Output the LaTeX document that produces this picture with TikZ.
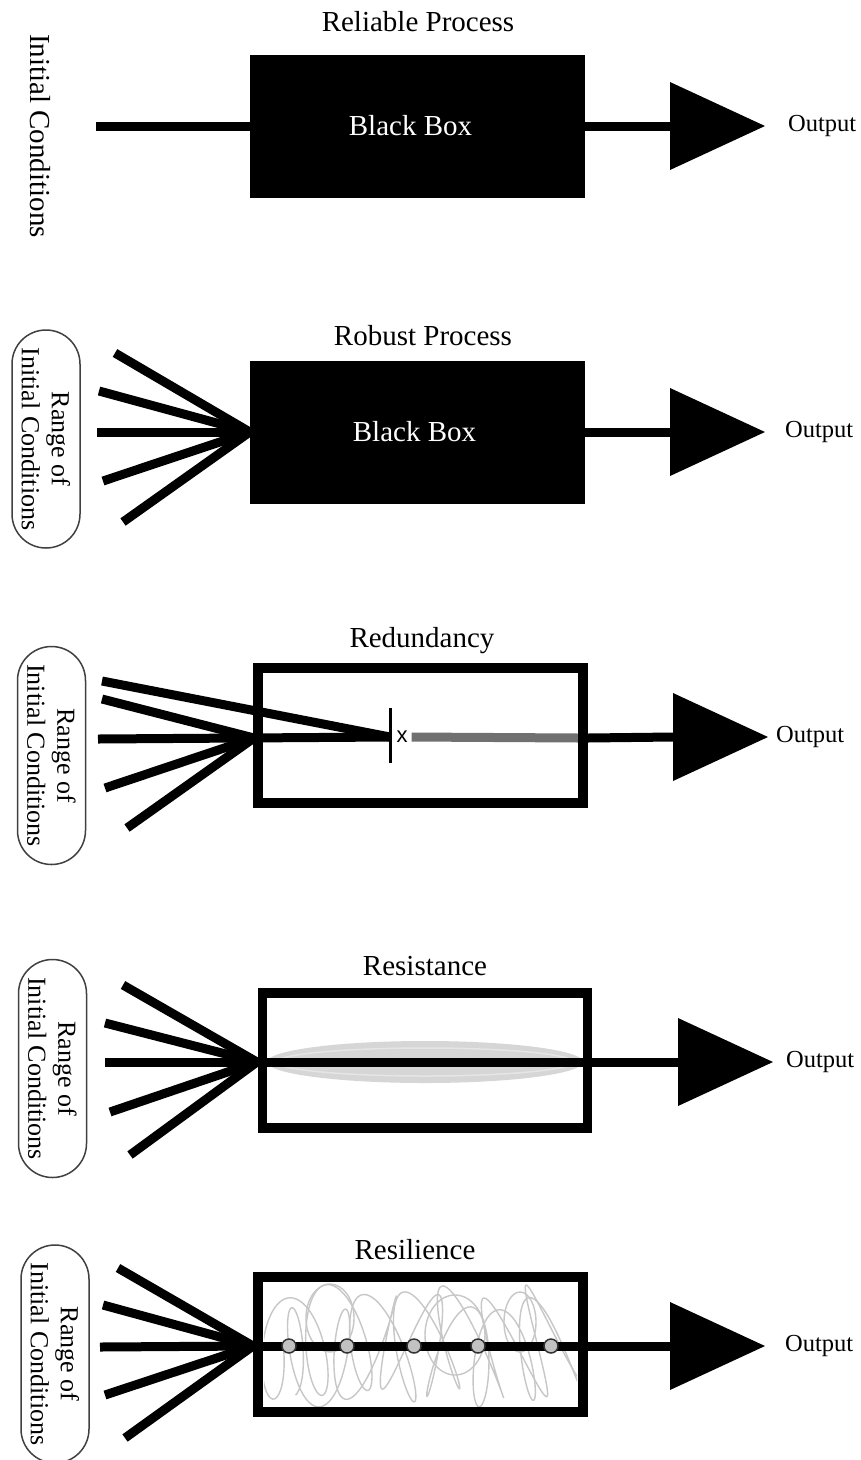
\documentclass[tikz,border=0pt]{standalone}
\usepackage{fontspec}
\setmainfont{Liberation Serif}
\newfontfamily\markfont{Liberation Sans}
\usepackage{tikz}
\usetikzlibrary{calc}
\definecolor{bandgray}{rgb}{0.84, 0.84, 0.84}
\definecolor{loopgray}{rgb}{0.78, 0.78, 0.78}
\definecolor{deadgray}{rgb}{0.44, 0.44, 0.44}
\definecolor{dotgray}{rgb}{0.76, 0.76, 0.76}
\tikzstyle{title} = [font=\fontsize{29}{34}\selectfont]
\tikzstyle{outlabel} = [font=\fontsize{24.5}{27}\selectfont, anchor=west, inner sep=0pt]
\tikzstyle{blackbox} = [fill=black, text=white, minimum width=335pt, minimum height=143pt, font=\fontsize{29}{34}\selectfont]
\tikzstyle{openbox} = [draw, line width=9.5pt, minimum width=325pt, minimum height=135pt]
\tikzstyle{pill} = [draw=black!75, line width=1.5pt, rotate=-90, rounded corners=34pt, minimum width=218pt, minimum height=68pt, inner sep=0pt, align=center, font=\fontsize{26}{30}\selectfont]
\tikzstyle{wire} = [line width=9pt]
\tikzstyle{scribble} = [loopgray, line width=1.4pt]
\tikzstyle{stage} = [circle, draw=black!80, line width=1.5pt, fill=dotgray, minimum size=14pt, inner sep=0pt]
\newcommand{\outputhead}[1]{\fill ($(#1)+(0,-44)$) -- ($(#1)+(95,0)$) -- ($(#1)+(0,44)$) -- cycle;}

\begin{document}
\begin{tikzpicture}[x=1pt, y=-1pt]
    \useasboundingbox (0,0) rectangle (860,1460);
    \fill[white] (0,0) rectangle (860,1460);

    \node[title] (t1) at (418,22) {Reliable Process};
    \node[blackbox] (bb1) at (417.5,126) {\hspace*{-14pt}Black Box};
    \node[font=\fontsize{29}{34}\selectfont, rotate=-90] (ic1) at (40,136) {Initial Conditions};
    \coordinate (in1) at (96,126);
    \coordinate (h1) at (670,126);
    \draw[wire] (in1) -- (bb1.west);
    \draw[wire] (bb1.east) -- (h1);
    \outputhead{h1}
    \node[outlabel] (o1) at (788,126) {Output};

    \node[title] (t2) at (423,336) {Robust Process};
    \node[blackbox] (bb2) at (417.5,432) {\hspace*{-6pt}Black Box};
    \node[pill] (r2) at (46,439) {Range of\\Initial Conditions};
    \foreach \fx/\fy [count=\i] in {115/353, 99/391, 97/432, 103/481, 123/522}{
        \coordinate (f2-\i) at (\fx,\fy);
        \draw[wire] (f2-\i) -- (bb2.west);
    }
    \coordinate (h2) at (670,432);
    \draw[wire] (bb2.east) -- (h2);
    \outputhead{h2}
    \node[outlabel] (o2) at (785,432) {Output};

    \node[title] (t3) at (422,641) {Redundancy};
    \node[pill] (r3) at (51.5,755.5) {Range of\\Initial Conditions};
    \coordinate (c3) at (254,738);
    \coordinate (k3) at (390,737);
    \coordinate (g3) at (579,738);
    \node[font=\markfont\fontsize{22}{22}\selectfont, inner sep=0pt] (x3) at (402,737) {x};
    \draw[wire, deadgray] ($(x3.east)+(4,0)$) -- (g3);
    \node[openbox] (ob3) at (420.5,735.5) {};
    \foreach \fx/\fy/\to [count=\i] in {102/681/k3, 102/699/c3, 98/739/k3, 105/788/c3, 127/828/c3}{
        \coordinate (f3-\i) at (\fx,\fy);
        \draw[wire] (f3-\i) -- (\to);
    }
    \draw[line width=3pt] ($(k3)+(0,-29)$) -- ($(k3)+(0,26)$);
    \coordinate (h3) at (673,737);
    \draw[wire] (ob3.east |- g3) -- (h3);
    \outputhead{h3}
    \node[outlabel] (o3) at (776,737) {Output};

    \node[title] (t4) at (425,966) {Resistance};
    \fill[bandgray] (425,1062) ellipse (158 and 21);
    \draw[gray!20, line width=1.5pt] (425,1062) ellipse (148 and 14);
    \node[openbox] (ob4) at (425,1060.5) {};
    \node[pill] (r4) at (52.5,1068.5) {Range of\\Initial Conditions};
    \coordinate (c4) at (257,1062);
    \foreach \fx/\fy [count=\i] in {123/985, 105/1023, 105/1062, 110/1112, 130/1155}{
        \coordinate (f4-\i) at (\fx,\fy);
        \draw[wire] (f4-\i) -- (c4);
    }
    \coordinate (h4) at (678,1062);
    \draw[wire] (c4) -- (h4);
    \outputhead{h4}
    \node[outlabel] (o4) at (786,1062) {Output};

    \node[title] (t5) at (415,1250) {Resilience};
    \begin{scope}
        \clip (264,1283) rectangle (577,1406);
        \draw[scribble] plot[domain=0:2520, samples=360, smooth] ({262+\x/8.2+21*cos(\x)}, {1343+52*sin(1.04*\x)+7*sin(0.41*\x)});
        \draw[scribble] plot[domain=0:2300, samples=330, smooth] ({280+\x/8+18*sin(0.97*\x+60)}, {1350+48*cos(1.1*\x+20)+9*sin(0.27*\x)});
        \draw[scribble] (330,1318) ellipse (24 and 34);
        \draw[scribble] (455,1335) ellipse (30 and 40);
        \draw[scribble] (520,1322) ellipse (16 and 30);
    \end{scope}
    \node[openbox] (ob5) at (420.5,1344.5) {};
    \node[pill] (r5) at (55,1354) {Range of\\Initial Conditions};
    \coordinate (c5) at (253,1346);
    \foreach \fx/\fy [count=\i] in {118/1268, 103/1305, 100/1347, 105/1395, 125/1438}{
        \coordinate (f5-\i) at (\fx,\fy);
        \draw[wire] (f5-\i) -- (c5);
    }
    \coordinate (h5) at (670,1346);
    \draw[wire] (c5) -- (h5);
    \foreach \dx [count=\i] in {289, 347, 414, 478, 551}
        \node[stage] (d\i) at (\dx,1346) {};
    \outputhead{h5}
    \node[outlabel] (o5) at (785,1346) {Output};
\end{tikzpicture}
\end{document}
